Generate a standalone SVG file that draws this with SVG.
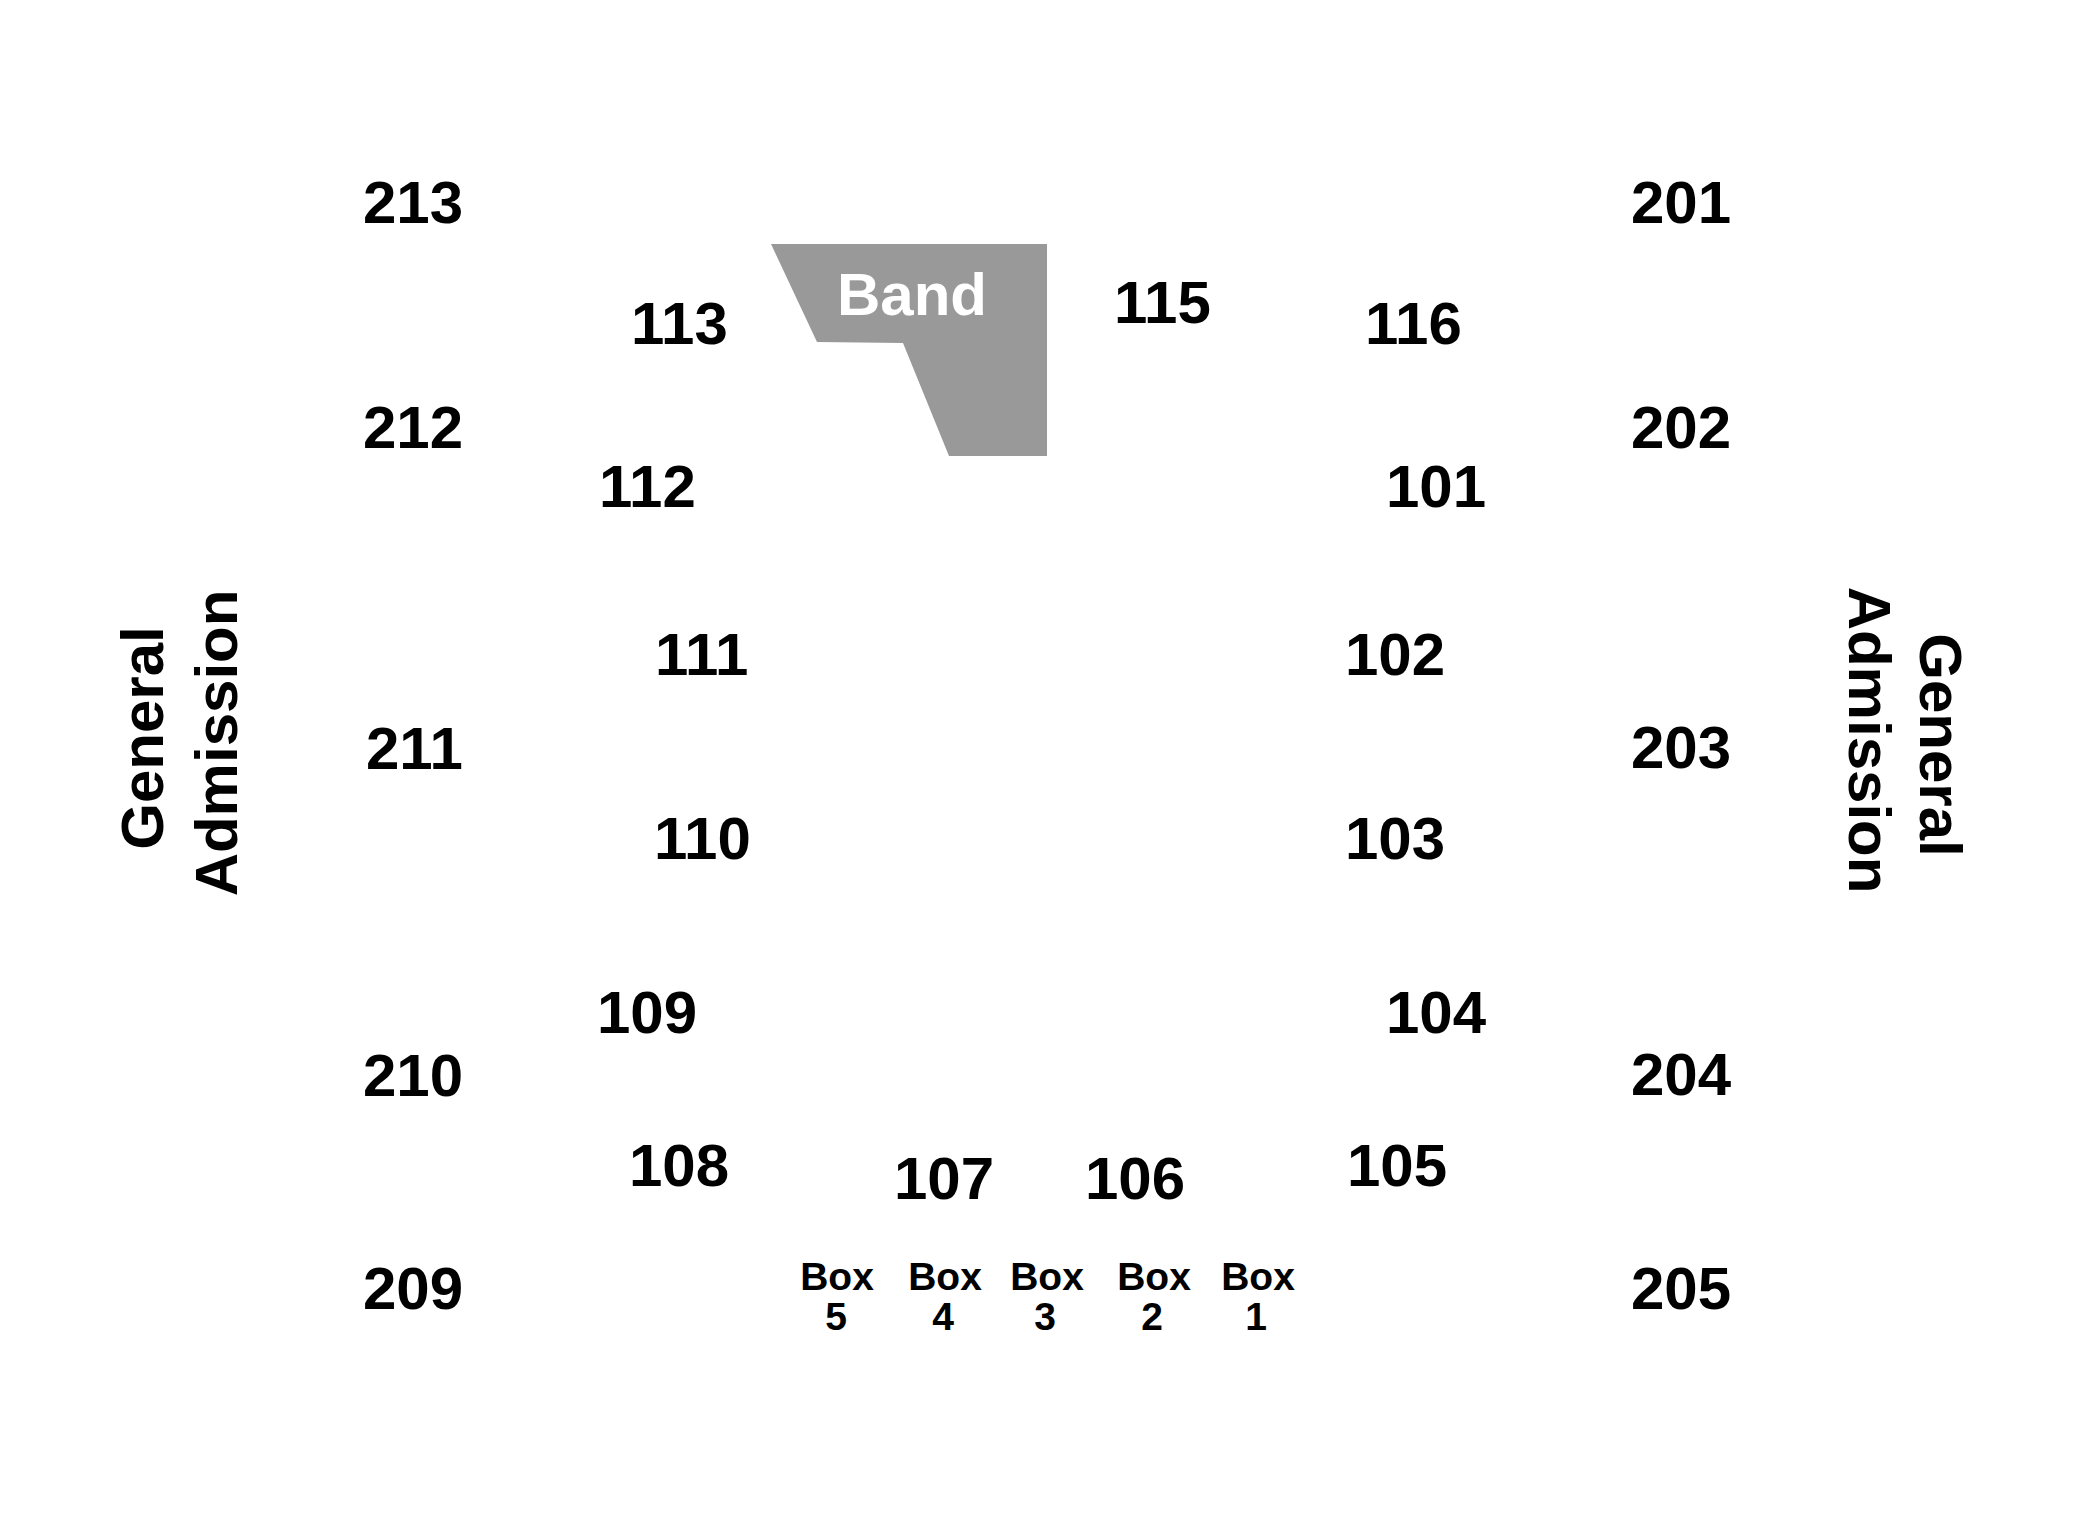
<svg xmlns="http://www.w3.org/2000/svg" width="2100" height="1540" viewBox="0 0 2100 1540">
  <style>
    text { font-family: "Liberation Sans", Arial, sans-serif; font-weight: bold; fill: #000000; }
    .sec { font-size: 60px; }
    .box { font-size: 39px; text-anchor: middle; }
    .ga { font-size: 60px; text-anchor: middle; }
    .band-shape { fill: #999999; stroke: none; }
    .band-label { font-size: 60px; fill: #ffffff; }
  </style>
  <rect x="0" y="0" width="2100" height="1540" fill="#ffffff"/>

  <g id="band">
    <polygon class="band-shape" points="771,244 1047,244 1047,456 949,456 903,343 817,342"/>
    <text class="band-label" x="837" y="315">Band</text>
  </g>

  <g id="connectors"></g>

  <g id="sec-213"><text class="sec" x="363" y="223">213</text></g>
  <g id="sec-212"><text class="sec" x="363" y="448">212</text></g>
  <g id="sec-211"><text class="sec" x="366" y="769">211</text></g>
  <g id="sec-210"><text class="sec" x="363" y="1096">210</text></g>
  <g id="sec-209"><text class="sec" x="363" y="1309">209</text></g>

  <g id="sec-201"><text class="sec" x="1631" y="223">201</text></g>
  <g id="sec-202"><text class="sec" x="1631" y="448">202</text></g>
  <g id="sec-203"><text class="sec" x="1631" y="768">203</text></g>
  <g id="sec-204"><text class="sec" x="1631" y="1095">204</text></g>
  <g id="sec-205"><text class="sec" x="1631" y="1309">205</text></g>

  <g id="sec-113"><text class="sec" x="631" y="344">113</text></g>
  <g id="sec-112"><text class="sec" x="599" y="507">112</text></g>
  <g id="sec-111"><text class="sec" x="655" y="675">111</text></g>
  <g id="sec-110"><text class="sec" x="654" y="859">110</text></g>
  <g id="sec-109"><text class="sec" x="597" y="1033">109</text></g>
  <g id="sec-108"><text class="sec" x="629" y="1186">108</text></g>
  <g id="sec-107"><text class="sec" x="894" y="1199">107</text></g>
  <g id="sec-106"><text class="sec" x="1085" y="1199">106</text></g>
  <g id="sec-105"><text class="sec" x="1347" y="1186">105</text></g>
  <g id="sec-104"><text class="sec" x="1386" y="1033">104</text></g>
  <g id="sec-103"><text class="sec" x="1345" y="859">103</text></g>
  <g id="sec-102"><text class="sec" x="1345" y="675">102</text></g>
  <g id="sec-101"><text class="sec" x="1386" y="507">101</text></g>
  <g id="sec-116"><text class="sec" x="1365" y="344">116</text></g>
  <g id="sec-115"><text class="sec" x="1114" y="323">115</text></g>

  <g id="box-5"><text class="box" x="837" y="1290">Box</text><text class="box" x="836" y="1330">5</text></g>
  <g id="box-4"><text class="box" x="945" y="1290">Box</text><text class="box" x="943" y="1330">4</text></g>
  <g id="box-3"><text class="box" x="1047" y="1290">Box</text><text class="box" x="1045" y="1330">3</text></g>
  <g id="box-2"><text class="box" x="1154" y="1290">Box</text><text class="box" x="1152" y="1330">2</text></g>
  <g id="box-1"><text class="box" x="1258" y="1290">Box</text><text class="box" x="1256" y="1330">1</text></g>

  <g id="ga-left">
    <text class="ga" transform="translate(163,738) rotate(-90)">General</text>
    <text class="ga" transform="translate(237,743) rotate(-90)">Admission</text>
  </g>
  <g id="ga-right">
    <text class="ga" transform="translate(1920,745) rotate(90)">General</text>
    <text class="ga" transform="translate(1849,740) rotate(90)">Admission</text>
  </g>
</svg>
